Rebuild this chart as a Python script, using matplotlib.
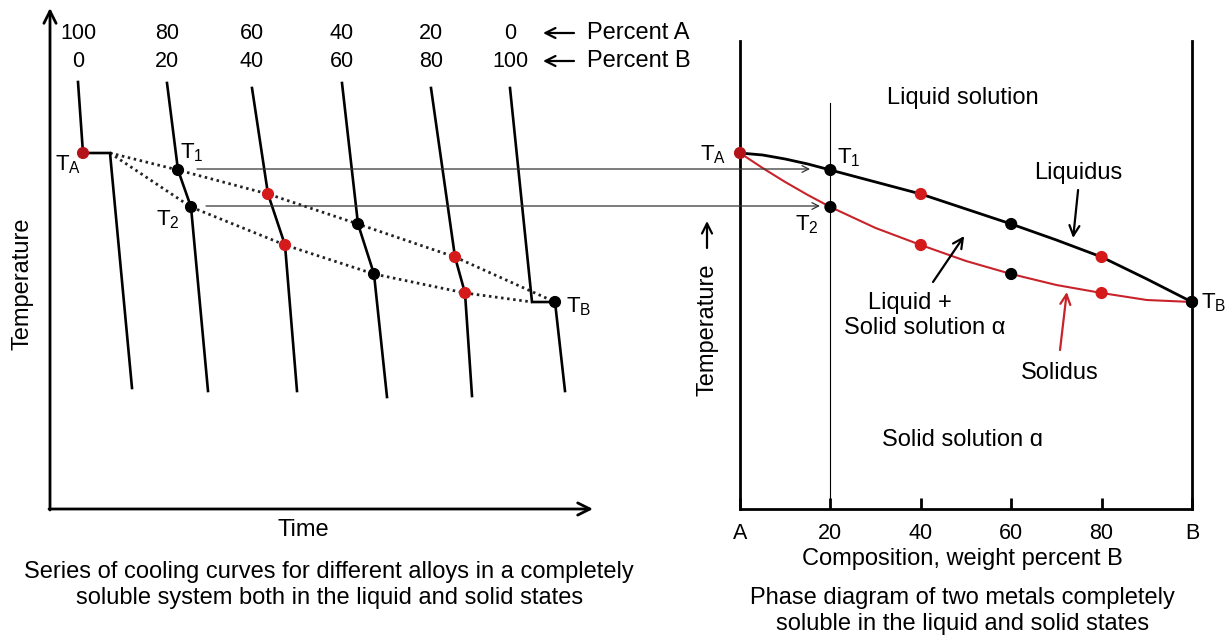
import matplotlib.pyplot as plt
from matplotlib.patches import ConnectionPatch

plt.rcParams['font.family'] = ['Liberation Sans', 'DejaVu Sans']
plt.rcParams['mathtext.fontset'] = 'custom'
plt.rcParams['mathtext.rm'] = 'Liberation Sans'

# phase diagram (composition in % B, temperature in arbitrary units)
comp = [0, 5, 10, 15, 20, 30, 40, 50, 60, 70, 80, 90, 100]
liquidus = [356, 354, 350, 345, 339, 327, 315, 300, 285, 269, 252, 230, 207]
solidus = [356, 341, 327, 314, 302, 281, 264, 248, 235, 224, 216, 209, 207]
key_idx = [0, 4, 6, 8, 10, 12]
key_comp = [comp[i] for i in key_idx]
key_liq = [liquidus[i] for i in key_idx]
key_sol = [solidus[i] for i in key_idx]
dot_colors = ['#b3141a', 'black', '#d41a1a', 'black', '#d41a1a', 'black']
comp_ticks = ['A', '20', '40', '60', '80', 'B']

# cooling curves: times for start, liquidus, solidus, end
pct_a = ['100', '80', '60', '40', '20', '0']
pct_b = ['0', '20', '40', '60', '80', '100']
t_start = [28, 117, 202, 292, 381, 460]
t_liq = [33, 128, 218, 308, 405, 482]
t_sol = [60, 141, 235, 324, 415, 505]
t_end = [82, 158, 247, 337, 422, 515]
T_start = [427, 426, 421, 426, 421, 421]
T_end = [121, 118, 118, 112, 113, 118]
red = '#c8232a'

FS = 17     # words
FN = 15.5   # numbers

W, H = 1229, 637
fig = plt.figure(figsize=(W / 100, H / 100), dpi=100)


def box(x0, y0, x1, y1):
    return [x0 / W, 1 - y1 / H, (x1 - x0) / W, (y1 - y0) / H]


# ---------------- left: cooling curves ----------------
ax1 = fig.add_axes(box(50, 8, 593, 509))
ax1.set_xlim(0, 543)
ax1.set_ylim(0, 501)
ax1.axis('off')
arw = dict(arrowstyle='->', lw=2, color='black', mutation_scale=22, shrinkA=0, shrinkB=0)
ax1.annotate('', xy=(543, 0), xytext=(-1, 0), arrowprops=arw, annotation_clip=False)
ax1.annotate('', xy=(0, 501), xytext=(0, -1), arrowprops=arw, annotation_clip=False)

for i in range(6):
    xs = [t_start[i], t_liq[i], t_sol[i], t_end[i]]
    ys = [T_start[i], key_liq[i], key_sol[i], T_end[i]]
    ax1.plot(xs, ys, color='black', lw=1.9, solid_joinstyle='miter', zorder=3)
    ax1.text(t_start[i], 476, pct_a[i], ha='center', va='center', fontsize=FN)
    ax1.text(t_start[i], 448, pct_b[i], ha='center', va='center', fontsize=FN)

# dotted liquidus / solidus traces
up_x = [t_sol[0]] + t_liq[1:5] + [t_sol[5]]
up_y = [key_liq[0]] + key_liq[1:5] + [key_liq[5]]
lo_x = [t_sol[0]] + t_sol[1:5] + [t_liq[5]]
lo_y = [key_sol[0]] + key_sol[1:5] + [key_sol[5]]
ax1.plot(up_x, up_y, color='#222222', lw=2, ls=(0, (0.9, 1.3)), zorder=2)
ax1.plot(lo_x, lo_y, color='#222222', lw=2, ls=(0, (0.9, 1.3)), zorder=2)

dot_t = [t_liq[0]] + t_liq[1:5] + t_sol[1:5] + [t_sol[5]]
dot_T = [key_liq[0]] + key_liq[1:5] + key_sol[1:5] + [key_sol[5]]
dot_c = [dot_colors[0]] + dot_colors[1:5] + dot_colors[1:5] + [dot_colors[5]]
ax1.scatter(dot_t, dot_T, s=60, c=dot_c, zorder=4)

ax1.text(18, 344, r'$\mathrm{T_A}$', fontsize=16, ha='center', va='center')
ax1.text(142, 356, r'$\mathrm{T_1}$', fontsize=16, ha='center', va='center')
ax1.text(118, 289, r'$\mathrm{T_2}$', fontsize=16, ha='center', va='center')
ax1.text(529, 202, r'$\mathrm{T_B}$', fontsize=16, ha='center', va='center')

small = dict(arrowstyle='->', lw=1.6, color='black', mutation_scale=18, shrinkA=0, shrinkB=0)
ax1.annotate('', xy=(493, 476), xytext=(524, 476), arrowprops=small, annotation_clip=False)
ax1.annotate('', xy=(493, 448), xytext=(524, 448), arrowprops=small, annotation_clip=False)
ax1.text(537, 476, 'Percent A', fontsize=FS, va='center')
ax1.text(537, 448, 'Percent B', fontsize=FS, va='center')

ax1.text(-28, 225, 'Temperature', rotation=90, fontsize=FS, ha='center', va='center')
ax1.text(253, -21, 'Time', fontsize=FS, ha='center', va='center')
ax1.text(279, -63, 'Series of cooling curves for different alloys in a completely',
         fontsize=FS, ha='center', va='center')
ax1.text(280, -89, 'soluble system both in the liquid and solid states',
         fontsize=FS, ha='center', va='center')

# ---------------- right: phase diagram ----------------
ax2 = fig.add_axes(box(740, 8, 1192, 509))
ax2.set_xlim(0, 100)
ax2.set_ylim(0, 501)
for s in ('left', 'right', 'top'):
    ax2.spines[s].set_visible(False)
ax2.spines['bottom'].set_linewidth(2)
ax2.set_yticks([])
ax2.set_xticks(key_comp)
ax2.set_xticklabels(comp_ticks, fontsize=FN)
ax2.tick_params(axis='x', direction='in', length=8, width=2, pad=10)
ax2.patch.set_visible(False)

ax2.plot([0, 0], [0, 468], color='black', lw=2, clip_on=False)
ax2.plot([100, 100], [0, 468], color='black', lw=2, clip_on=False)
ax2.plot([20, 20], [0, 406], color='black', lw=0.8)

ax2.plot(comp, liquidus, color='black', lw=2, clip_on=False, zorder=3)
ax2.plot(comp, solidus, color=red, lw=1.5, clip_on=False, zorder=3)
ax2.scatter(key_comp, key_liq, s=60, c=dot_colors, zorder=4, clip_on=False)
ax2.scatter(key_comp[1:], key_sol[1:], s=60, c=dot_colors[1:], zorder=4, clip_on=False)

ax2.text(-6, 354, r'$\mathrm{T_A}$', fontsize=16, ha='center', va='center')
ax2.text(24, 351, r'$\mathrm{T_1}$', fontsize=16, ha='center', va='center')
ax2.text(14.8, 284, r'$\mathrm{T_2}$', fontsize=16, ha='center', va='center')
ax2.text(104.8, 206, r'$\mathrm{T_B}$', fontsize=16, ha='center', va='center')

ax2.text(49.3, 411, 'Liquid solution', fontsize=FS, ha='center', va='center')
ax2.text(74.8, 336, 'Liquidus', fontsize=FS, ha='center', va='center')
ax2.text(37.6, 206, 'Liquid +', fontsize=FS, ha='center', va='center')
ax2.text(40.9, 181, 'Solid solution α', fontsize=FS, ha='center', va='center')
ax2.text(70.8, 136, 'Solidus', fontsize=FS, ha='center', va='center')
ax2.text(49.3, 69, 'Solid solution ɑ', fontsize=FS, ha='center', va='center')

ax2.annotate('', xy=(73.7, 271), xytext=(74.8, 319), arrowprops=small)
ax2.annotate('', xy=(49.6, 273), xytext=(42.7, 227), arrowprops=small)
ax2.annotate('', xy=(72.3, 217), xytext=(70.8, 159),
             arrowprops=dict(small, color=red))

ax2.text(-7.3, 179, 'Temperature', rotation=90, fontsize=FS, ha='center', va='center')
ax2.annotate('', xy=(-7.3, 288), xytext=(-7.3, 261), arrowprops=small,
             annotation_clip=False)
ax2.text(49.3, -50, 'Composition, weight percent B', fontsize=FS, ha='center', va='center')
ax2.text(49.3, -89, 'Phase diagram of two metals completely',
         fontsize=FS, ha='center', va='center')
ax2.text(49.3, -115, 'soluble in the liquid and solid states',
         fontsize=FS, ha='center', va='center')

# T1 / T2 projection lines between the two panels
for t0, T0, c1 in [(147, 340, 15.5), (156, 303, 17.7)]:
    con = ConnectionPatch(xyA=(t0, T0), coordsA=ax1.transData,
                          xyB=(c1, T0), coordsB=ax2.transData,
                          arrowstyle='->', lw=0.9, color='#333333',
                          mutation_scale=12, shrinkA=0, shrinkB=0)
    fig.add_artist(con)

fig.savefig('out.png', dpi=100, facecolor='white')
